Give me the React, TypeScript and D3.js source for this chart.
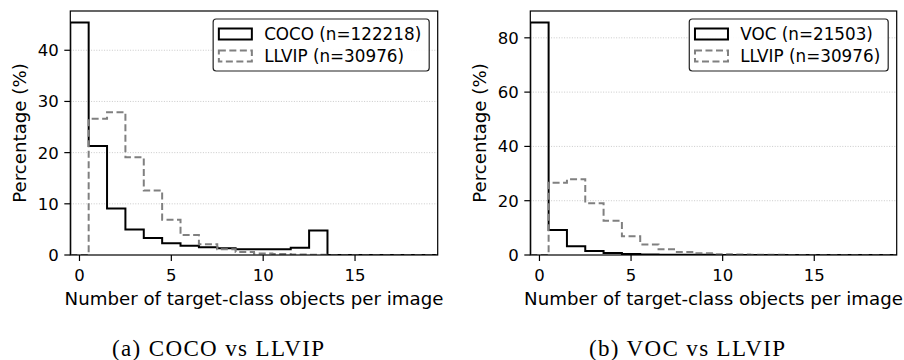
import React, { useEffect, useRef } from 'react';
import * as d3 from 'd3';

// objects per image (histogram bins, one per integer)
const objectCounts = [0, 1, 2, 3, 4, 5, 6, 7, 8, 9, 10, 11, 12, 13, 14, 15, 16, 17, 18, 19];

// percentage of images per bin
const cocoPct = [45.4, 21.3, 9.1, 5.0, 3.3, 2.3, 1.8, 1.5, 1.3, 1.1, 1.1, 1.1, 1.4, 4.8, 0, 0, 0, 0, 0, 0];
const vocPct = [85.6, 9.2, 3.2, 1.5, 0.7, 0.4, 0.2, 0.1, 0.1, 0.05, 0, 0, 0, 0, 0, 0, 0, 0, 0, 0];
const llvipPct = [0, 26.6, 27.9, 19.1, 12.6, 6.9, 3.9, 2.1, 1.1, 0.6, 0.3, 0.2, 0.1, 0.05, 0, 0, 0, 0, 0, 0];

const xTicks = [0, 5, 10, 15];
const yTicksA = [0, 10, 20, 30, 40];
const yTicksB = [0, 20, 40, 60, 80];

const legendA = ['COCO (n=122218)', 'LLVIP (n=30976)'];
const legendB = ['VOC (n=21503)', 'LLVIP (n=30976)'];
const captions = ['(a) COCO vs LLVIP', '(b) VOC vs LLVIP'];

const xLabel = 'Number of target-class objects per image';
const yLabel = 'Percentage (%)';

const W = 904;
const H = 360;
const TOP = 11;
const BOTTOM = 255;
const FONT = '"DejaVu Sans", sans-serif';

const panels = [
  { left: 70.3, right: 437.7, main: cocoPct, yTicks: yTicksA, legend: legendA, caption: captions[0], capX: 218, capW: 212 },
  { left: 530.3, right: 896.7, main: vocPct, yTicks: yTicksB, legend: legendB, caption: captions[1], capX: 687, capW: 196 },
];

const stepPoints = (values: number[]) => {
  const pts: [number, number][] = [[objectCounts[0] - 0.5, 0]];
  values.forEach((v, i) => {
    pts.push([objectCounts[i] - 0.5, v]);
    pts.push([objectCounts[i] + 0.5, v]);
  });
  pts.push([objectCounts[objectCounts.length - 1] + 0.5, 0]);
  return pts;
};

export default function App() {
  const svgRef = useRef<SVGSVGElement>(null);

  useEffect(() => {
    const svg = d3.select(svgRef.current);
    svg.selectAll('*').remove();

    panels.forEach((p, pi) => {
      const g = svg.append('g');
      const x = d3.scaleLinear().domain([-0.5, 19.5]).range([p.left, p.right]);
      const yMax = (d3.max([...p.main, ...llvipPct]) as number) * 1.05;
      const y = d3.scaleLinear().domain([0, yMax]).range([BOTTOM, TOP]);

      const clipId = `clip-${pi}`;
      g.append('clipPath').attr('id', clipId)
        .append('rect')
        .attr('x', p.left).attr('y', TOP)
        .attr('width', p.right - p.left).attr('height', BOTTOM - TOP);

      // dotted horizontal grid
      g.append('g').selectAll('line')
        .data(p.yTicks.filter(t => t > 0))
        .enter().append('line')
        .attr('x1', p.left).attr('x2', p.right)
        .attr('y1', d => y(d)).attr('y2', d => y(d))
        .attr('stroke', '#bdbdbd')
        .attr('stroke-width', 0.8)
        .attr('stroke-dasharray', '1,1.6');

      const line = d3.line<[number, number]>()
        .x(d => x(d[0]))
        .y(d => y(d[1]));

      const plot = g.append('g').attr('clip-path', `url(#${clipId})`);
      plot.append('path')
        .attr('d', line(stepPoints(p.main)))
        .attr('fill', 'none')
        .attr('stroke', '#000')
        .attr('stroke-width', 2)
        .attr('stroke-linejoin', 'miter');
      plot.append('path')
        .attr('d', line(stepPoints(llvipPct)))
        .attr('fill', 'none')
        .attr('stroke', '#808080')
        .attr('stroke-width', 2)
        .attr('stroke-dasharray', '7,3.5');

      // spines
      g.append('rect')
        .attr('x', p.left).attr('y', TOP)
        .attr('width', p.right - p.left).attr('height', BOTTOM - TOP)
        .attr('fill', 'none')
        .attr('stroke', '#000')
        .attr('stroke-width', 1.2);

      // x ticks
      const xt = g.append('g').selectAll('g').data(xTicks).enter().append('g');
      xt.append('line')
        .attr('x1', d => x(d)).attr('x2', d => x(d))
        .attr('y1', BOTTOM).attr('y2', BOTTOM + 6)
        .attr('stroke', '#000').attr('stroke-width', 1.2);
      xt.append('text')
        .attr('x', d => x(d)).attr('y', BOTTOM + 26)
        .attr('text-anchor', 'middle')
        .attr('font-family', FONT).attr('font-size', 16.5)
        .attr('fill', '#000')
        .text(d => d);

      // y ticks
      const yt = g.append('g').selectAll('g').data(p.yTicks).enter().append('g');
      yt.append('line')
        .attr('x1', p.left - 6).attr('x2', p.left)
        .attr('y1', d => y(d)).attr('y2', d => y(d))
        .attr('stroke', '#000').attr('stroke-width', 1.2);
      yt.append('text')
        .attr('x', p.left - 11.5).attr('y', d => y(d))
        .attr('dy', '0.36em')
        .attr('text-anchor', 'end')
        .attr('font-family', FONT).attr('font-size', 16.5)
        .attr('fill', '#000')
        .text(d => d);

      // axis labels
      g.append('text')
        .attr('x', (p.left + p.right) / 2).attr('y', 305)
        .attr('text-anchor', 'middle')
        .attr('font-family', FONT).attr('font-size', 18.2)
        .attr('fill', '#000')
        .text(xLabel);
      g.append('text')
        .attr('transform', `translate(${p.left - 44.5},${(TOP + BOTTOM) / 2}) rotate(-90)`)
        .attr('text-anchor', 'middle')
        .attr('font-family', FONT).attr('font-size', 18.2)
        .attr('fill', '#000')
        .text(yLabel);

      // legend
      const lg = g.append('g');
      const box = lg.append('rect');
      const texts = p.legend.map((label, i) => lg.append('text')
        .attr('y', TOP + 29 + i * 22)
        .attr('font-family', FONT).attr('font-size', 16.8)
        .attr('fill', '#000')
        .text(label));
      const maxW = d3.max(texts, t => (t.node() as SVGTextElement).getComputedTextLength()) as number;
      const boxW = 5.7 + 33 + 12.3 + maxW + 8;
      const bx = p.right - 8.5 - boxW;
      box.attr('x', bx).attr('y', TOP + 8)
        .attr('width', boxW).attr('height', 52)
        .attr('rx', 3)
        .attr('fill', '#fff').attr('fill-opacity', 0.9)
        .attr('stroke', '#222').attr('stroke-width', 1.2);
      texts.forEach(t => t.attr('x', bx + 51));
      p.legend.forEach((_, i) => {
        lg.append('rect')
          .attr('x', bx + 5.7).attr('y', TOP + 17.5 + i * 22)
          .attr('width', 33).attr('height', 11)
          .attr('fill', 'none')
          .attr('stroke', i === 0 ? '#000' : '#808080')
          .attr('stroke-width', 2)
          .attr('stroke-dasharray', i === 0 ? null : '7,3.5');
      });

      // sub-figure caption
      svg.append('text')
        .attr('x', p.capX).attr('y', 356)
        .attr('text-anchor', 'middle')
        .attr('font-family', '"Liberation Serif", serif').attr('font-size', 23)
        .attr('textLength', p.capW)
        .attr('lengthAdjust', 'spacing')
        .attr('fill', '#000')
        .text(p.caption);
    });
  }, []);

  return (
    <div style={{ position: 'absolute', left: 0, top: 0, background: '#fff' }}>
      <svg ref={svgRef} width={W} height={H} style={{ display: 'block' }} />
    </div>
  );
}
